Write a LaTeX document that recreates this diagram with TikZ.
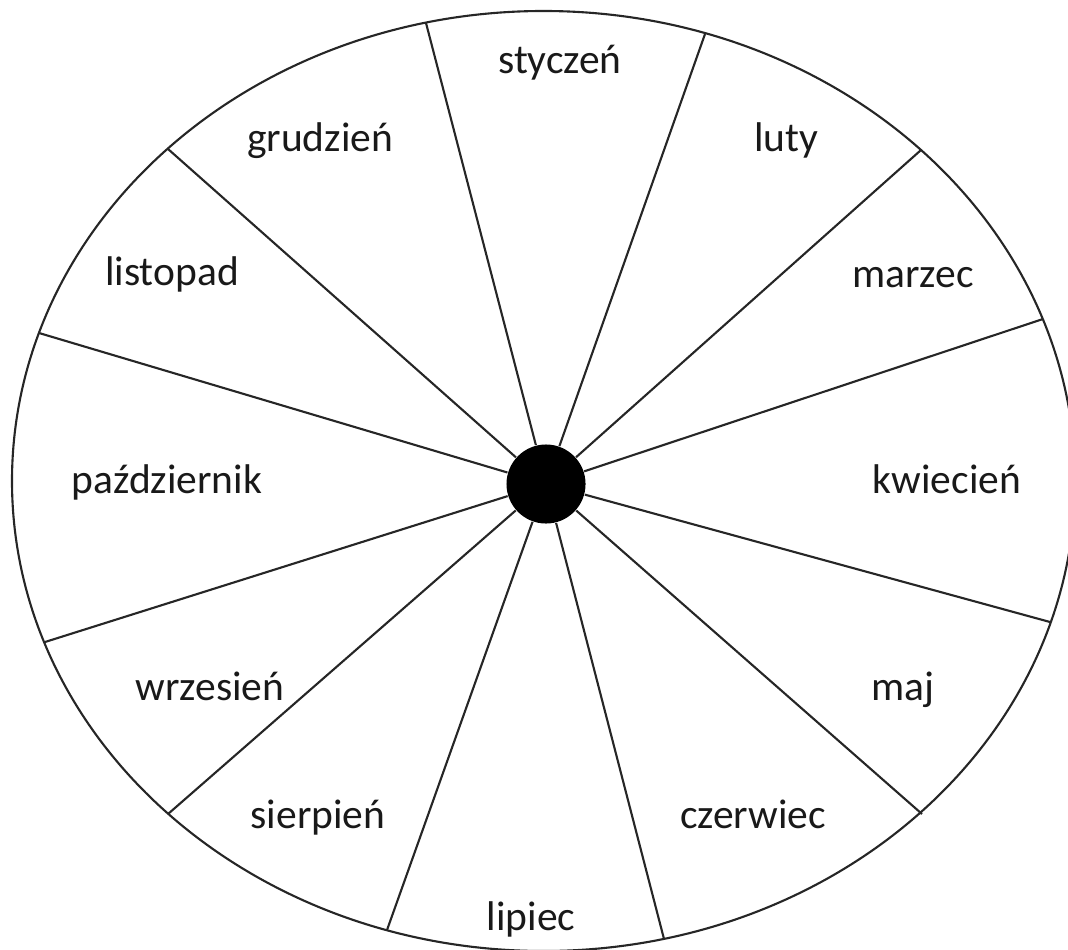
\documentclass[tikz,border=0pt]{standalone}
\usepackage{fontspec}
\setmainfont{Carlito}
\usepackage{tikz}
\usetikzlibrary{positioning, calc}
\tikzset{
    % Wheel parts
    rim/.style={
        draw=black!85,
        line width=0.6pt
    },
    spoke/.style={
        draw=black!85,
        line width=0.6pt
    },
    hub dot/.style={
        circle,
        fill=black,
        inner sep=0pt,
        minimum size=0.79cm
    },
    month/.style={
        anchor=base,
        inner sep=0pt,
        text=black!90,
        font=\fontsize{11.8}{14}\selectfont
    }
}
\begin{document}
\begin{tikzpicture}[x=0.01cm, y=-0.01cm]
        \useasboundingbox (0,0) rectangle (1068,949);

        % Outer rim
        \draw[rim] (543.6,481) ellipse [x radius=531.6, y radius=470];

        % Hub and rim points
        \node[hub dot] (hub) at (546,484) {};
        \coordinate (r1) at (426,23);
        \coordinate (r2) at (705,34);
        \coordinate (r3) at (921,150);
        \coordinate (r4) at (1043,319);
        \coordinate (r5) at (1050,622);
        \coordinate (r6) at (922,814);
        \coordinate (r7) at (664,939);
        \coordinate (r8) at (387,930);
        \coordinate (r9) at (168,814);
        \coordinate (r10) at (45,642);
        \coordinate (r11) at (39,333);
        \coordinate (r12) at (168,149);

        % Spokes
        \foreach \i in {1,...,12}
            \draw[spoke] (hub) -- (r\i);

        % Months
        \node[month] (jan) at (560,74) {styczeń};
        \node[month] (feb) at (786,152) {luty};
        \node[month] (mar) at (913,287) {marzec};
        \node[month] (apr) at (947,493) {kwiecień};
        \node[month] (may) at (903,700) {maj};
        \node[month] (jun) at (753,828) {czerwiec};
        \node[month] (jul) at (531,930) {lipiec};
        \node[month] (aug) at (318,828) {sierpień};
        \node[month] (sep) at (210,700) {wrzesień};
        \node[month] (oct) at (167,493) {październik};
        \node[month] (nov) at (172,285) {listopad};
        \node[month] (dec) at (320,152) {grudzień};
    \end{tikzpicture}
\end{document}
